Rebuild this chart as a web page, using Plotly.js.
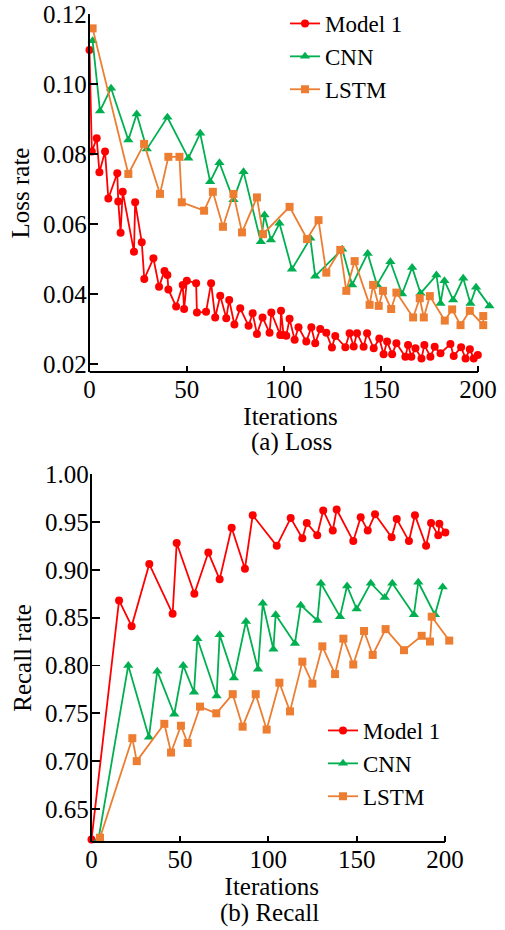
<!DOCTYPE html>
<html>
<head>
<meta charset="utf-8">
<script src="https://cdn.plot.ly/plotly-3.0.1.min.js"></script>
<style>html,body{margin:0;padding:0;background:#fff;}#chart{width:505px;height:930px;}</style>
</head>
<body>
<div id="chart"></div>
<script>
// ---- (a) Loss ----
const lossModel1X = [0,1.2,3.7,5.1,8,9.7,14.3,14.8,16,17.1,22.9,23.5,26.9,28.2,32.9,35.8,38.6,40.1,40.6,44.6,48,48.7,50.1,54.9,55.3,60,62.6,64.7,67.3,70.4,71.9,74.6,77.6,81.9,84,86.2,89.1,92.7,93.6,98.2,98.6,99.9,101.3,103,105.6,107.6,111.6,114.2,116.2,118.8,121.9,124.8,126.5,131.7,133.9,136,137.7,141.1,142.9,146.3,149.2,151.4,153.2,155.8,158,162.6,164,165.7,167.8,170.9,172.4,175.5,177.7,180.7,185.8,187.5,191.3,193.6,195.8,197.8,199.9];
const lossModel1Y = [0.1097,0.0807,0.0845,0.0748,0.0807,0.0673,0.0745,0.0664,0.0575,0.0692,0.0521,0.0662,0.0548,0.0443,0.0502,0.0421,0.0466,0.0454,0.0413,0.0364,0.0426,0.0357,0.0438,0.0431,0.0347,0.0349,0.0431,0.0333,0.0395,0.0331,0.0383,0.0313,0.0359,0.0309,0.0345,0.0286,0.0333,0.0289,0.0347,0.0283,0.0352,0.0283,0.0281,0.0329,0.0269,0.0305,0.0264,0.0305,0.0259,0.0300,0.0289,0.0247,0.0280,0.0248,0.0288,0.0250,0.0288,0.0249,0.0288,0.0245,0.0273,0.0228,0.0264,0.0228,0.0259,0.0221,0.0254,0.0221,0.0245,0.0216,0.0254,0.0221,0.0249,0.0231,0.0257,0.0223,0.0248,0.0216,0.0242,0.0216,0.0226];
const lossCnnX = [1.6,5.4,11.1,20,24.3,29.5,40.1,50.9,57,62.1,66.9,74.1,79.3,88.2,90.1,93.4,97.8,104.2,113.7,116.2,130.1,135.2,143.2,148,154.9,160.9,166.1,170.4,178.6,180.7,182.7,187.2,192.4,196.1,199,205.9];
const lossCnnY = [0.1124,0.0923,0.0988,0.0840,0.0914,0.0814,0.0905,0.0788,0.0859,0.0721,0.0775,0.0669,0.0749,0.0549,0.0626,0.0554,0.0602,0.0471,0.0559,0.0451,0.0528,0.0426,0.0516,0.0426,0.0492,0.0400,0.0476,0.0402,0.0454,0.0373,0.0438,0.0383,0.0445,0.0373,0.0419,0.0366];
const lossLstmX = [1.6,20,28.1,36.3,40.6,46.3,47.5,59,63.5,68.7,74.1,78.5,86.2,89.3,103,112,117.9,121.9,129.1,132.2,136.5,144.2,146,148.9,151.1,155.3,158,166.6,170,172.1,175.2,182.9,186.7,191,195.8,202.7,202.7];
const lossLstmY = [0.1159,0.0743,0.0829,0.0686,0.0792,0.0792,0.0662,0.0638,0.0692,0.0592,0.0686,0.0576,0.0676,0.0571,0.0649,0.0557,0.0611,0.0461,0.0526,0.0409,0.0494,0.0369,0.0426,0.0366,0.0409,0.0357,0.0404,0.0333,0.0388,0.0333,0.0394,0.0324,0.0356,0.0311,0.0352,0.0311,0.0337];

// ---- (b) Recall ----
const recModel1X = [0,15.6,22.7,32.7,45.9,48.2,58.2,66.1,72.5,79.3,86.8,91.2,104.8,112.7,119.3,121.8,127.7,131.1,136.5,138.7,148.1,152.3,156.3,160.4,169.8,172.7,179.6,183,189.3,192.1,196.2,196.8,200.2];
const recModel1Y = [0.618,0.868,0.841,0.906,0.854,0.928,0.875,0.918,0.890,0.944,0.901,0.957,0.925,0.954,0.933,0.949,0.936,0.962,0.941,0.963,0.930,0.955,0.941,0.958,0.934,0.953,0.930,0.957,0.925,0.949,0.936,0.948,0.939];
const recCnnX = [3.9,20.8,32.5,37.2,46.8,51.9,58,59.9,70.8,72.5,80.6,87.4,94.2,96.9,102.9,104.2,115.1,118.4,127.8,129.8,140.6,144.6,150,158,165.9,170.2,182.4,184.9,194.3,198.7];
const recCnnY = [0.618,0.800,0.725,0.794,0.749,0.800,0.772,0.828,0.768,0.832,0.787,0.846,0.796,0.865,0.817,0.853,0.823,0.863,0.847,0.886,0.851,0.883,0.859,0.886,0.871,0.886,0.853,0.887,0.853,0.882];
const recLstmX = [4.8,23.1,25.6,41.2,45,50.6,54.4,61.4,70.6,79.9,85.5,92.9,99.1,106.3,112.3,119.3,125,130.6,137.8,142.5,148.1,154.2,159.1,166.4,176.8,186.8,191.5,192.5,202.4];
const recLstmY = [0.620,0.724,0.700,0.739,0.709,0.737,0.719,0.757,0.750,0.770,0.736,0.770,0.733,0.782,0.752,0.804,0.781,0.820,0.791,0.828,0.801,0.836,0.811,0.838,0.816,0.831,0.825,0.851,0.826];

const seriesNames = ['Model 1','CNN','LSTM'];
const colors = ['#ff0000','#00b050','#ed7d31'];
const symbols = ['circle','triangle-up','square'];
const xTickVals = [0, 50, 100, 150, 200];

const FONT = 'Liberation Serif, Times New Roman, serif';
const txt = (size) => ({family: FONT, size: size, color: '#000'});
const FS = 25;

function tr(x, y, i, xa, ya, leg) {
  return {
    x: x, y: y, name: seriesNames[i], type: 'scatter', mode: 'lines+markers',
    xaxis: xa, yaxis: ya, legend: leg, cliponaxis: false,
    line: {color: colors[i], width: 1.8},
    marker: {color: colors[i], symbol: symbols[i], size: i === 1 ? 9 : 8}
  };
}

const data = [
  tr(lossModel1X, lossModel1Y, 0, 'x', 'y', 'legend'),
  tr(lossCnnX, lossCnnY, 1, 'x', 'y', 'legend'),
  tr(lossLstmX, lossLstmY, 2, 'x', 'y', 'legend'),
  tr(recModel1X, recModel1Y, 0, 'x2', 'y2', 'legend2'),
  tr(recCnnX, recCnnY, 1, 'x2', 'y2', 'legend2'),
  tr(recLstmX, recLstmY, 2, 'x2', 'y2', 'legend2')
];

function axisCommon() {
  return {
    showgrid: false, zeroline: false, showline: true, linecolor: '#000', linewidth: 1.8,
    ticks: 'inside', tickcolor: '#000', tickwidth: 1.8, mirror: false,
    tickfont: txt(FS), automargin: false
  };
}

// x axes extend slightly past 200 so the last markers are not clipped;
// the visible axis line stops at 200 (drawn as a shape)
const xTopMax = 207, xBotMax = 204;
const topPxPerUnit = (478 - 89.5) / 200, botPxPerUnit = (445 - 91.5) / 200;

const layout = {
  width: 505, height: 930,
  margin: {l: 0, r: 0, t: 0, b: 0},
  paper_bgcolor: '#fff', plot_bgcolor: '#fff',
  font: txt(FS),
  showlegend: true,
  xaxis: Object.assign(axisCommon(), {
    showline: false,
    domain: [89.5/505, (89.5 + xTopMax*topPxPerUnit)/505], range: [-0.001, xTopMax],
    tickmode: 'array', tickvals: xTickVals, ticklen: 6,
    anchor: 'y', title: {text: 'Iterations', font: txt(FS), standoff: 3}
  }),
  yaxis: Object.assign(axisCommon(), {
    domain: [1 - 372/930, 1 - 14/930], range: [0.01771, 0.12001], dtick: 0.02, tick0: 0, ticklen: 8,
    ticklabelstandoff: -4,
    tickformat: '.2f', anchor: 'x', title: {text: 'Loss rate', font: txt(FS), standoff: 6}
  }),
  xaxis2: Object.assign(axisCommon(), {
    showline: false,
    domain: [91.5/505, (91.5 + xBotMax*botPxPerUnit)/505], range: [-0.001, xBotMax],
    tickmode: 'array', tickvals: xTickVals, ticklen: 6,
    anchor: 'y2', title: {text: 'Iterations', font: txt(FS), standoff: 2}
  }),
  yaxis2: Object.assign(axisCommon(), {
    domain: [1 - 842/930, 1 - 474/930], range: [0.6155, 1.0001], dtick: 0.05, tick0: 0, ticklen: 8,
    ticklabelstandoff: -4,
    tickformat: '.2f', anchor: 'x2', title: {text: 'Recall rate', font: txt(FS), standoff: 6}
  }),
  shapes: [
    {type: 'line', xref: 'x', yref: 'y domain', x0: 0, x1: 200, y0: 0, y1: 0, line: {color: '#000', width: 1.8}},
    {type: 'line', xref: 'x2', yref: 'y2 domain', x0: 0, x1: 200, y0: 0, y1: 0, line: {color: '#000', width: 1.8}}
  ],
  legend: {
    x: (330 - 45)/505, y: 1 - 2/930, xanchor: 'left', yanchor: 'top',
    bgcolor: 'rgba(0,0,0,0)', borderwidth: 0, font: txt(23),
    tracegroupgap: 0
  },
  legend2: {
    x: (368 - 45)/505, y: 1 - 709/930, xanchor: 'left', yanchor: 'top',
    bgcolor: 'rgba(0,0,0,0)', borderwidth: 0, font: txt(23),
    tracegroupgap: 0
  },
  annotations: [
    {text: '(a) Loss', xref: 'paper', yref: 'paper', x: 291/505, y: 1 - 442/930,
     xanchor: 'center', yanchor: 'middle', showarrow: false, font: txt(FS)},
    {text: '(b) Recall', xref: 'paper', yref: 'paper', x: 269/505, y: 1 - 913/930,
     xanchor: 'center', yanchor: 'middle', showarrow: false, font: txt(FS)}
  ]
};

Plotly.newPlot('chart', data, layout, {displayModeBar: false, staticPlot: true});
</script>
</body>
</html>
